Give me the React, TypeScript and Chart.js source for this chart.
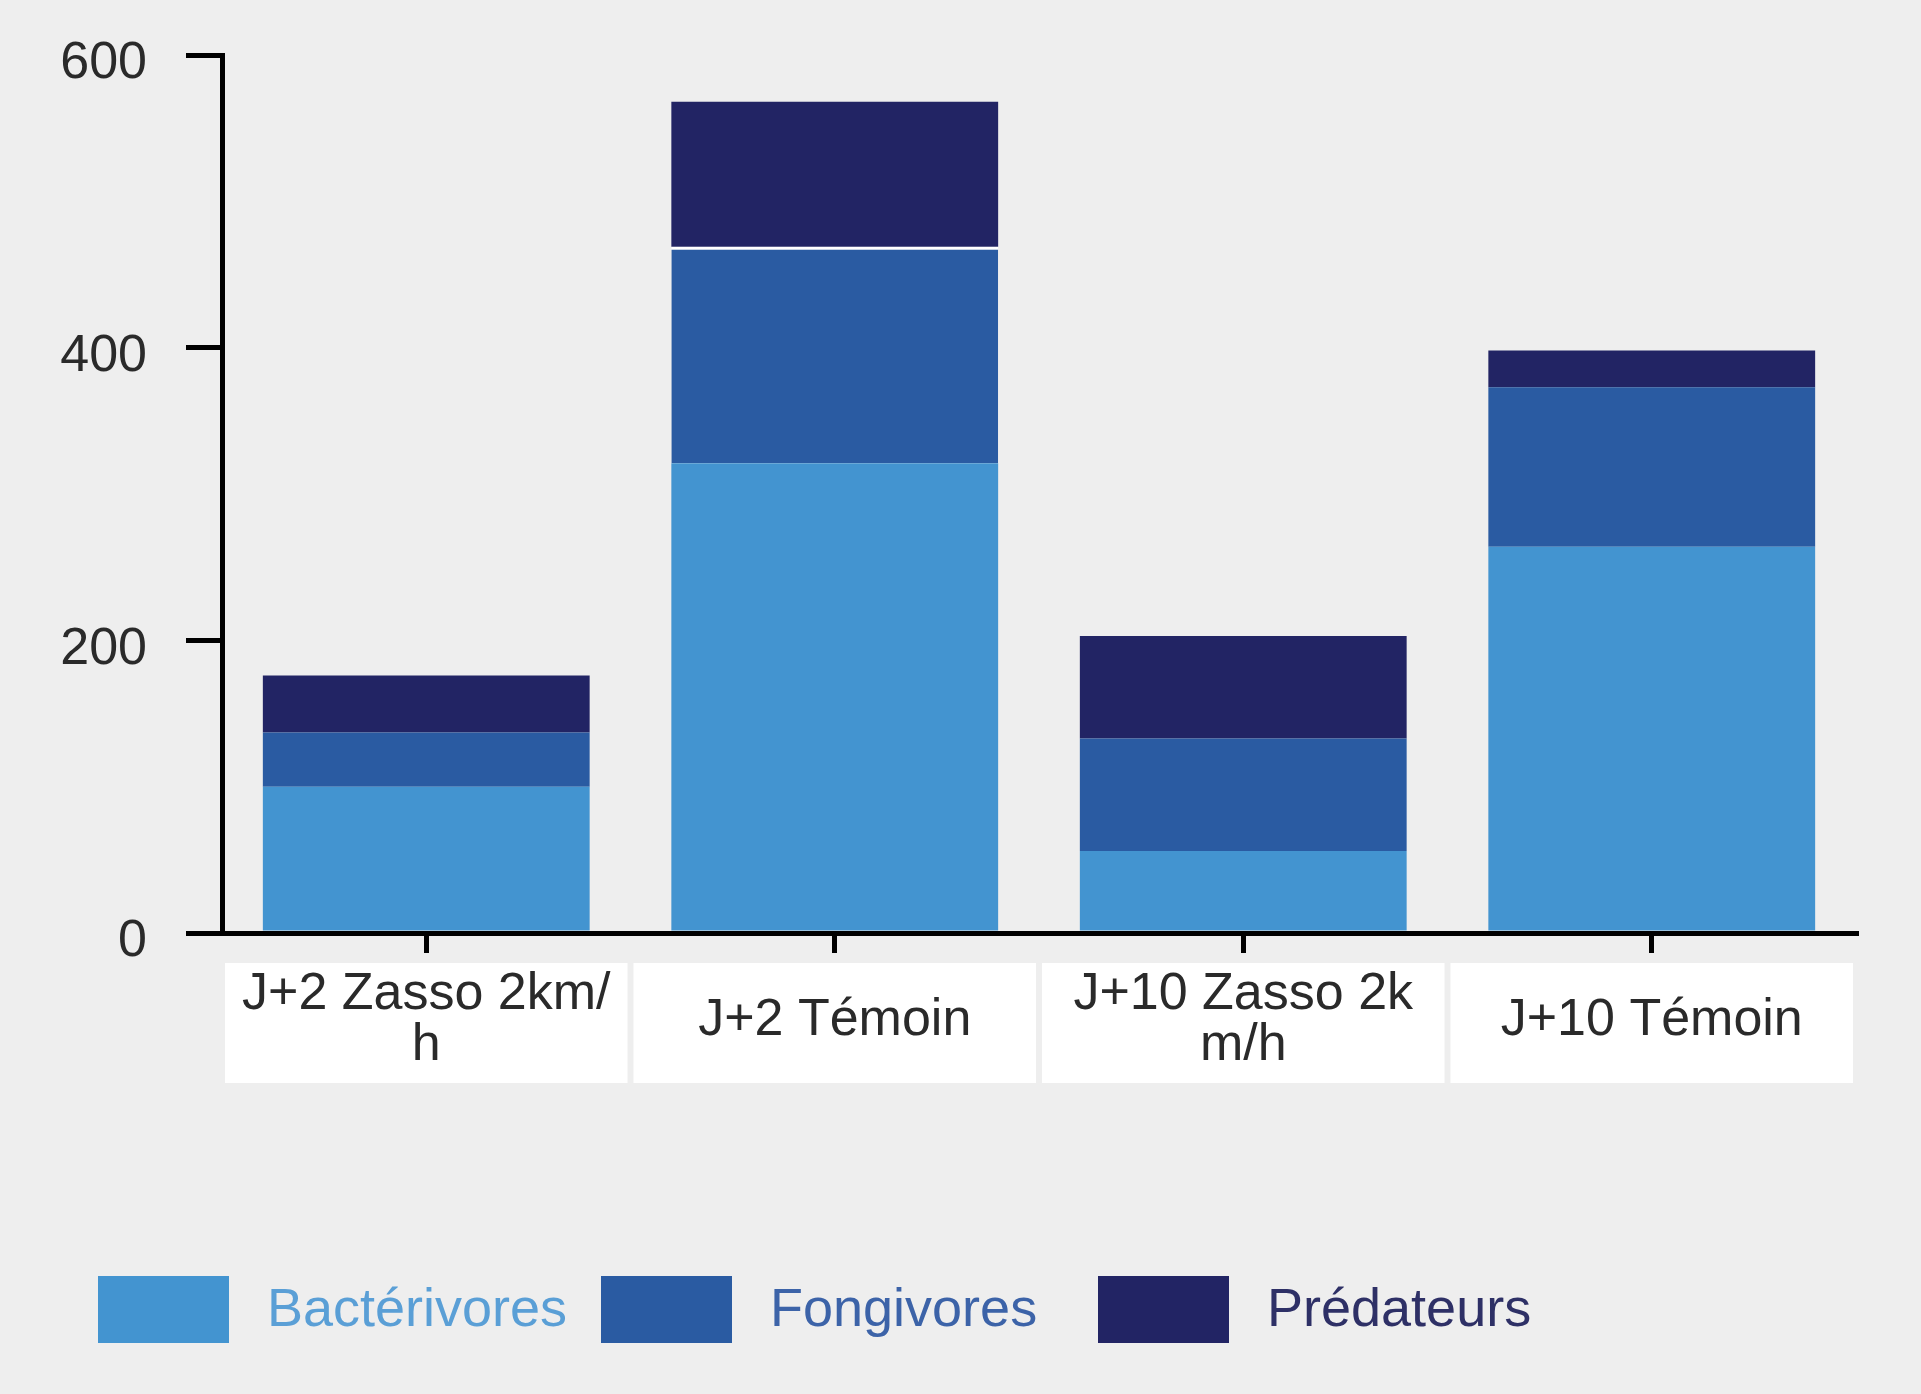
import React, { useEffect, useRef } from "react";
import { Chart, registerables } from "chart.js";

Chart.register(...registerables);

const categories: (string | string[])[] = [
  ["J+2 Zasso 2km/", "h"],
  "J+2 Témoin",
  ["J+10 Zasso 2k", "m/h"],
  "J+10 Témoin",
];
const bacterivores = [100, 321, 56, 264];
const fongivores = [37, 148, 77, 109];
const predateurs = [39, 99, 70, 25];
const seriesNames = ["Bactérivores", "Fongivores", "Prédateurs"];
const seriesColors = ["#4394d0", "#2a5ba2", "#222464"];
const legendTextColors = ["#5a9fd6", "#3c63a8", "#2e3066"];
const yTicks = [0, 200, 400, 600];

const FONT = "'Liberation Sans', Arial, Helvetica, sans-serif";

const labelBoxes = {
  id: "labelBoxes",
  beforeDraw(chart: any) {
    const { ctx, scales, chartArea } = chart;
    const x = scales.x;
    const n = categories.length;
    const cw = (chartArea.right - chartArea.left) / n;
    ctx.save();
    ctx.fillStyle = "#ffffff";
    for (let i = 0; i < n; i++) {
      const cx = x.getPixelForValue(i);
      ctx.fillRect(cx - cw / 2 + 3, chartArea.bottom + 30, cw - 6, 120);
    }
    ctx.restore();
  },
};

const legendBoxX = [98, 601, 1098];

const customLegend = {
  id: "customLegend",
  afterDraw(chart: any) {
    const { ctx } = chart;
    ctx.save();
    ctx.font = `54px ${FONT}`;
    ctx.textBaseline = "middle";
    ctx.textAlign = "left";
    const yTop = 1276;
    const bw = 131;
    const bh = 67;
    chart.data.datasets.forEach((ds: any, i: number) => {
      const x = legendBoxX[i];
      ctx.fillStyle = seriesColors[i];
      ctx.fillRect(x, yTop, bw, bh);
      ctx.fillStyle = legendTextColors[i];
      ctx.fillText(ds.label, x + bw + 38, yTop + bh / 2 + 2);
    });
    ctx.restore();
  },
};

export default function App() {
  const ref = useRef<HTMLCanvasElement | null>(null);
  useEffect(() => {
    if (!ref.current) return;
    const chart = new Chart(ref.current, {
      type: "bar",
      data: {
        labels: categories as any,
        datasets: [
          {
            label: seriesNames[0],
            data: bacterivores,
            backgroundColor: seriesColors[0],
            borderWidth: 0,
          },
          {
            label: seriesNames[1],
            data: fongivores,
            backgroundColor: seriesColors[1],
            borderColor: "#ffffff",
            borderSkipped: false,
            borderWidth: (c: any) =>
              c.dataIndex === 1 ? { top: 3, left: 0, right: 0, bottom: 0 } : 0,
          } as any,
          {
            label: seriesNames[2],
            data: predateurs,
            backgroundColor: seriesColors[2],
            borderWidth: 0,
          },
        ],
      },
      options: {
        animation: false,
        responsive: true,
        maintainAspectRatio: false,
        layout: { padding: { top: 55, right: 65, left: 0, bottom: 0 } },
        datasets: { bar: { categoryPercentage: 1, barPercentage: 0.8 } },
        plugins: {
          legend: { display: false },
          tooltip: { enabled: false },
        },
        scales: {
          x: {
            stacked: true,
            afterFit: (s: any) => {
              s.height = 1394 - 933;
            },
            border: { display: true, color: "#000", width: 5 },
            grid: {
              display: true,
              drawOnChartArea: false,
              drawTicks: true,
              offset: false,
              tickLength: 20,
              color: "#000",
              lineWidth: 5,
            },
            ticks: {
              font: { family: FONT, size: 52, lineHeight: 0.97 },
              color: "#2a2a2a",
              padding: 42,
              maxRotation: 0,
              minRotation: 0,
              autoSkip: false,
              crossAlign: "center",
            } as any,
          },
          y: {
            stacked: true,
            min: 0,
            max: 600,
            afterFit: (s: any) => {
              s.width = 222;
              s.paddingTop = 0;
              s.paddingBottom = 0;
            },
            afterBuildTicks: (s: any) => {
              s.ticks = yTicks.map((v) => ({ value: v }));
            },
            border: { display: true, color: "#000", width: 5 },
            grid: {
              display: true,
              drawOnChartArea: false,
              drawTicks: true,
              tickLength: 36,
              color: "#000",
              lineWidth: 5,
            },
            ticks: {
              font: { family: FONT, size: 52 },
              color: "#2a2a2a",
              padding: 39,
              labelOffset: 9,
            } as any,
          },
        },
      },
      plugins: [labelBoxes, customLegend],
    });
    return () => chart.destroy();
  }, []);
  return (
    <div
      style={{
        position: "absolute",
        left: 0,
        top: 0,
        width: 1921,
        height: 1394,
        background: "#eeeeee",
      }}
    >
      <canvas ref={ref} />
    </div>
  );
}
